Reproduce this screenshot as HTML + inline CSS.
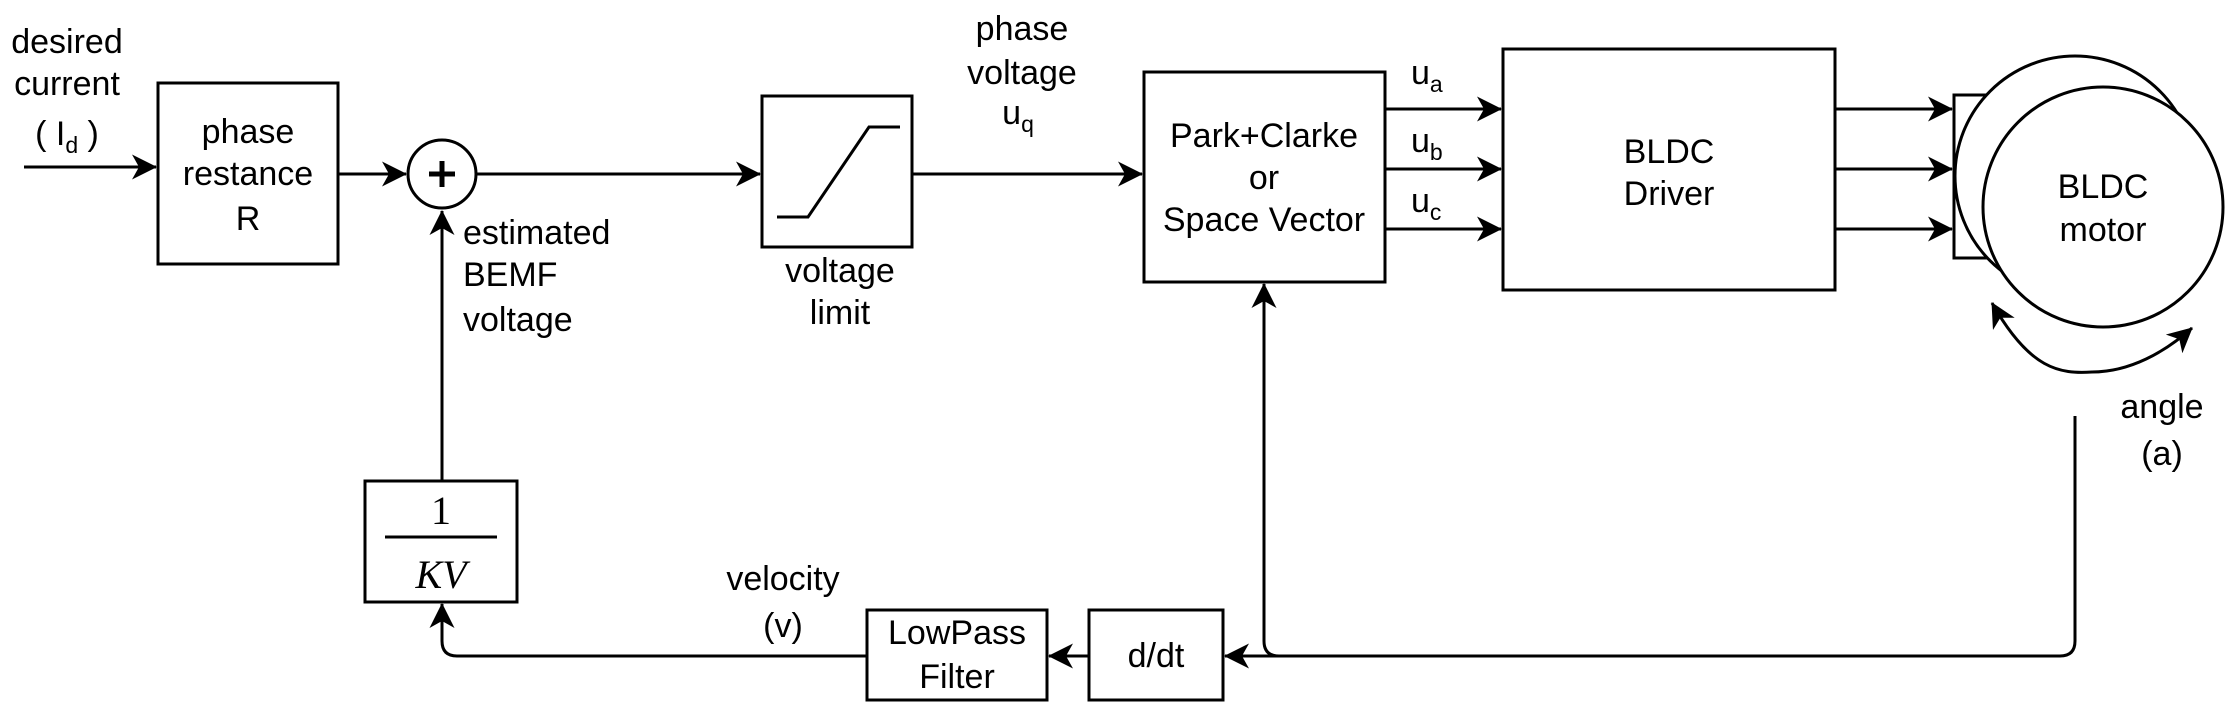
<!DOCTYPE html>
<html><head><meta charset="utf-8"><style>
html,body{margin:0;padding:0;background:#fff;overflow:hidden;}
svg{display:block;}
text{font-family:"Liberation Sans",Arial,sans-serif;font-size:34px;fill:#000;}
.s{font-size:23px;}
</style></head><body>
<svg width="2226" height="702" viewBox="0 0 2226 702" xmlns="http://www.w3.org/2000/svg">
<defs>
<marker id="a" markerWidth="26" markerHeight="26" refX="24" refY="12.5" orient="auto-start-reverse" markerUnits="userSpaceOnUse">
<path d="M0,0 L25,12.5 L0,25 L7,12.5 Z" fill="#000"/>
</marker>
</defs>
<g stroke="#000" stroke-width="3" fill="none">
<line x1="24" y1="167" x2="156" y2="167" marker-end="url(#a)"/>
<rect x="158" y="83" width="180" height="181" fill="#fff"/>
<line x1="338" y1="174" x2="406" y2="174" marker-end="url(#a)"/>
<circle cx="442" cy="174" r="34" fill="#fff"/>
<line x1="476" y1="174" x2="760" y2="174" marker-end="url(#a)"/>
<rect x="762" y="96" width="150" height="151" fill="#fff"/>
<polyline points="777,217 808,217 869,127 900,127"/>
<line x1="912" y1="174" x2="1142" y2="174" marker-end="url(#a)"/>
<rect x="1144" y="72" width="241" height="210" fill="#fff"/>
<line x1="1385" y1="109" x2="1501" y2="109" marker-end="url(#a)"/>
<line x1="1385" y1="169" x2="1501" y2="169" marker-end="url(#a)"/>
<line x1="1385" y1="229" x2="1501" y2="229" marker-end="url(#a)"/>
<rect x="1503" y="49" width="332" height="241" fill="#fff"/>
<line x1="1835" y1="109" x2="1952" y2="109" marker-end="url(#a)"/>
<line x1="1835" y1="169" x2="1952" y2="169" marker-end="url(#a)"/>
<line x1="1835" y1="229" x2="1952" y2="229" marker-end="url(#a)"/>
<rect x="1954" y="95" width="40" height="163" fill="#fff"/>
<circle cx="2075" cy="176" r="120" fill="#fff"/>
<circle cx="2103" cy="207" r="120" fill="#fff"/>
<path d="M1992,303 C2030,370 2060,374 2092,372 C2130,372 2165,352 2192,328" marker-start="url(#a)" marker-end="url(#a)"/>
<path d="M2075,416 L2075,641 Q2075,656 2060,656 L1225,656" marker-end="url(#a)"/>
<path d="M1279,656 Q1264,656 1264,641 L1264,284" marker-end="url(#a)"/>
<rect x="1089" y="610" width="134" height="90" fill="#fff"/>
<line x1="1089" y1="656" x2="1049" y2="656" marker-end="url(#a)"/>
<rect x="867" y="610" width="180" height="90" fill="#fff"/>
<rect x="365" y="481" width="152" height="121" fill="#fff"/>
<line x1="442" y1="481" x2="442" y2="211" marker-end="url(#a)"/>
<path d="M867,656 L457,656 Q442,656 442,641 L442,604" marker-end="url(#a)"/>
</g>
<g stroke="#000" stroke-width="5">
<line x1="429" y1="174" x2="455" y2="174"/><line x1="442" y1="161" x2="442" y2="187"/>
</g>
<line x1="385" y1="537" x2="497" y2="537" stroke="#000" stroke-width="3"/>
<text x="441" y="524" text-anchor="middle" style="font-family:'Liberation Serif',serif;font-size:40px">1</text>
<text x="441" y="588" text-anchor="middle" style="font-family:'Liberation Serif',serif;font-size:40px;font-style:italic">KV</text>
<g text-anchor="middle">
<text x="67" y="53">desired</text>
<text x="67" y="95">current</text>
<text x="67" y="145">( I<tspan class="s" dy="8">d</tspan><tspan dy="-8"> )</tspan></text>
<text x="248" y="143">phase</text>
<text x="248" y="185">restance</text>
<text x="248" y="230">R</text>
<text x="840" y="282">voltage</text>
<text x="840" y="324">limit</text>
<text x="1022" y="40">phase</text>
<text x="1022" y="84">voltage</text>
<text x="1018" y="124">u<tspan class="s" dy="8">q</tspan></text>
<text x="1264" y="147">Park+Clarke</text>
<text x="1264" y="189">or</text>
<text x="1264" y="231">Space Vector</text>
<text x="1669" y="163">BLDC</text>
<text x="1669" y="205">Driver</text>
<text x="2103" y="198">BLDC</text>
<text x="2103" y="241">motor</text>
<text x="2162" y="418">angle</text>
<text x="2162" y="465">(a)</text>
<text x="783" y="590">velocity</text>
<text x="783" y="637">(v)</text>
<text x="957" y="644">LowPass</text>
<text x="957" y="688">Filter</text>
<text x="1156" y="667">d/dt</text>
</g>
<text x="463" y="244">estimated</text>
<text x="463" y="286">BEMF</text>
<text x="463" y="331">voltage</text>
<text x="1411" y="84">u<tspan class="s" dy="8">a</tspan></text>
<text x="1411" y="152">u<tspan class="s" dy="8">b</tspan></text>
<text x="1411" y="212">u<tspan class="s" dy="8">c</tspan></text>
</svg>
</body></html>
